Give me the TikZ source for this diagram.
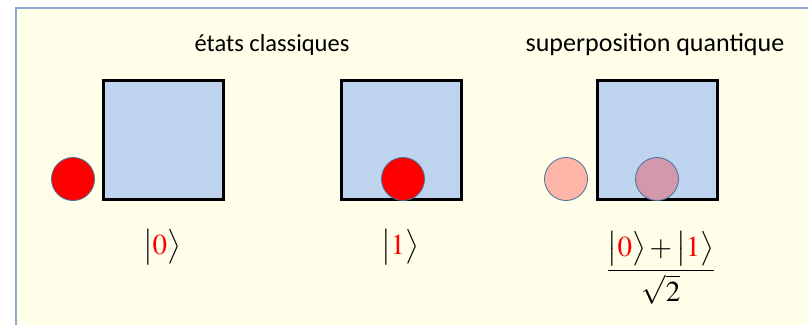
\documentclass[tikz,border=0pt]{standalone}
\usepackage{amsmath}
\usepackage{mathptmx}
\usepackage[no-math]{fontspec}
\setmainfont{Carlito}
\usepackage{xcolor}
\usetikzlibrary{positioning}
\definecolor{fond}{HTML}{FEFEE9}
\definecolor{cadre}{HTML}{8EA9D0}
\definecolor{puits}{HTML}{BDD3EE}
\definecolor{contour}{HTML}{41719C}
\definecolor{rose}{HTML}{FCB5A6}
\definecolor{mauve}{HTML}{D498AD}
\tikzset{
  boite/.style={draw=black, line width=3pt, fill=puits, minimum width=120pt, minimum height=119pt, inner sep=0pt},
  bille/.style={circle, draw=contour, line width=0.8pt, minimum size=43pt, inner sep=0pt},
  titre/.style={font=\fontsize{24.5}{28}\selectfont},
  ket/.style={font=\fontsize{29}{34}\selectfont}
}
\newcommand{\etat}[1]{\bigl|\textcolor{red}{#1}\bigr\rangle}

\begin{document}
\begin{tikzpicture}[x=1pt, y=-1pt]
\useasboundingbox (0,0) rectangle (808,325);
\fill[white] (0,0) rectangle (808,325);
\fill[fond] (16,8) rectangle (808,325);
\draw[cadre, line width=1.5pt] (16,325) -- (16,8) -- (808,8);
\node[titre] (titreclassique) at (272,45) {états classiques};
\node[titre, font=\fontsize{26}{30}\selectfont] (titrequantique) at (655,45) {superposition quantique};
\node[boite] (boite0) at (163.5,140) {};
\node[boite] (boite1) at (401.5,140) {};
\node[boite] (boitesup) at (657.5,140) {};
\node[bille, fill=red] (bille0) at (73,179) {};
\node[bille, fill=red] (bille1) at (403,179) {};
\node[bille, fill=rose] (billeA) at (566,179) {};
\node[bille, fill=mauve] (billeB) at (657,179) {};
\node[ket] (ket0) at (162,247) {$\etat{0}$};
\node[ket] (ket1) at (400,247) {$\etat{1}$};
\node[ket] (ketsup) at (661,268) {$\dfrac{\etat{0}+\etat{1}}{\sqrt{2}}$};
\end{tikzpicture}
\end{document}
